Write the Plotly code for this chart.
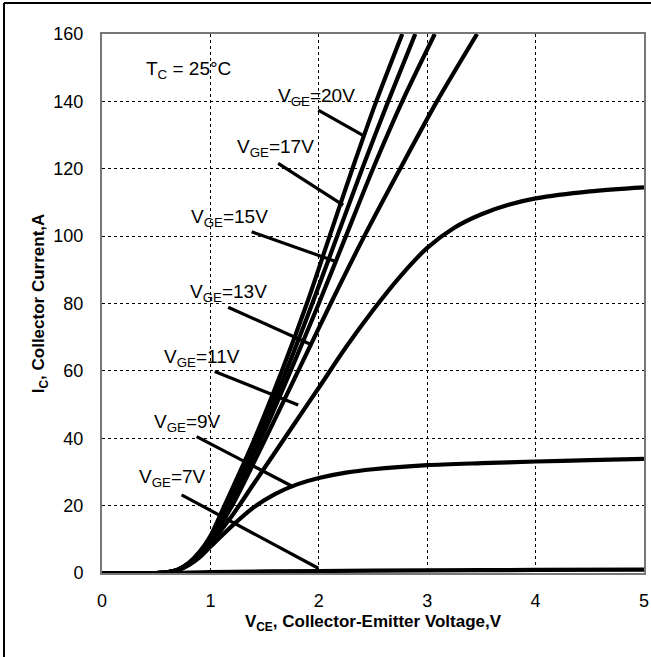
import plotly.graph_objects as go

# ---- data ----
vge_labels = ["20V", "17V", "15V", "13V", "11V", "9V", "7V"]

x_20 = [0, 0.5, 0.6, 0.7, 0.8, 0.9, 1.0, 1.13, 1.41, 1.66, 1.89, 2.10, 2.31, 2.53, 2.77]
y_20 = [0, 0, 0.2, 1.0, 3.0, 6.3, 11.0, 20, 40, 60, 80, 100, 120, 140, 160]

x_17 = [0, 0.5, 0.6, 0.7, 0.8, 0.9, 1.0, 1.15, 1.44, 1.70, 1.94, 2.17, 2.40, 2.64, 2.89]
y_17 = [0, 0, 0.2, 1.0, 2.9, 6.1, 10.5, 20, 40, 60, 80, 100, 120, 140, 160]

x_15 = [0, 0.5, 0.6, 0.7, 0.8, 0.9, 1.0, 1.17, 1.47, 1.74, 2.00, 2.25, 2.50, 2.77, 3.07]
y_15 = [0, 0, 0.2, 1.0, 2.8, 5.9, 10.2, 20, 40, 60, 80, 100, 120, 140, 160]

x_13 = [0, 0.5, 0.6, 0.7, 0.8, 0.9, 1.0, 1.20, 1.51, 1.81, 2.11, 2.42, 2.75, 3.09, 3.46]
y_13 = [0, 0, 0.2, 0.95, 2.7, 5.6, 9.6, 20, 40, 60, 80, 100, 120, 140, 160]

x_11 = [0, 0.5, 0.6, 0.7, 0.8, 0.9, 1.0, 1.2, 1.4, 1.6, 1.8, 2.0, 2.25, 2.5, 2.75, 3.0, 3.25, 3.5, 3.75, 4.0, 4.5, 5.0]
y_11 = [0, 0, 0.2, 0.9, 2.6, 5.3, 8.8, 17, 26.5, 36, 45.5, 55, 67, 78, 88, 96.5, 102.5, 106.5, 109.3, 111.2, 113.3, 114.5]

x_9 = [0, 0.5, 0.6, 0.7, 0.8, 0.9, 1.0, 1.2, 1.4, 1.6, 1.8, 2.0, 2.25, 2.5, 3.0, 3.5, 4.0, 4.5, 5.0]
y_9 = [0, 0, 0.2, 0.8, 2.3, 4.6, 7.8, 14, 19.5, 23.5, 26.3, 28.2, 29.8, 30.8, 32.0, 32.6, 33.1, 33.5, 33.9]

x_7 = [0, 0.6, 1.0, 2.0, 3.0, 4.0, 5.0]
y_7 = [0, 0, 0.3, 0.6, 0.8, 0.9, 1.0]

x_ticks = [0, 1, 2, 3, 4, 5]
y_ticks = [0, 20, 40, 60, 80, 100, 120, 140, 160]

series = [(x_20, y_20), (x_17, y_17), (x_15, y_15), (x_13, y_13),
          (x_11, y_11), (x_9, y_9), (x_7, y_7)]

# ---- label / pointer placement (layout) ----
label_pos = [(1.98, 141.4), (1.60, 126.2), (1.18, 105.4), (1.165, 83.1),
             (0.92, 63.8), (0.79, 44.5), (0.65, 28.2)]
pointer_start = [(1.995, 137.4), (1.625, 121.6), (1.38, 101.3), (1.164, 78.9),
                 (1.04, 59.8), (0.873, 40.5), (0.734, 23.2)]
pointer_end = [(2.42, 129.7), (2.225, 109.2), (2.163, 92.4), (1.917, 68.0),
               (1.81, 49.9), (1.763, 25.6), (1.995, 1.4)]

FONT = "Liberation Sans, Arial, sans-serif"

fig = go.Figure()
for (xs, ys), lab in zip(series, vge_labels):
    fig.add_trace(go.Scatter(x=xs, y=ys, mode="lines", name=lab,
                             line=dict(color="black", width=4.2, shape="spline", smoothing=0.8),
                             showlegend=False, hoverinfo="skip"))

shapes = []
for (x0, y0), (x1, y1) in zip(pointer_start, pointer_end):
    shapes.append(dict(type="line", xref="x", yref="y", x0=x0, y0=y0, x1=x1, y1=y1,
                       line=dict(color="black", width=3.2)))

# outer frame (left and top edges of the picture)
W, H = 651, 657
L, R, T, B = 102, 7, 34, 84
pw, ph = W - L - R, H - T - B
def px2paper_x(px):
    return (px - L) / pw
def py2paper_y(py):
    return (H - B - py) / ph
shapes.append(dict(type="line", xref="paper", yref="paper",
                   x0=px2paper_x(4), x1=px2paper_x(4), y0=py2paper_y(3), y1=py2paper_y(700),
                   line=dict(color="black", width=2)))
shapes.append(dict(type="line", xref="paper", yref="paper",
                   x0=px2paper_x(4), x1=px2paper_x(700), y0=py2paper_y(3), y1=py2paper_y(3),
                   line=dict(color="black", width=2)))

annotations = []
for (x, y), lab in zip(label_pos, vge_labels):
    annotations.append(dict(x=x, y=y, xref="x", yref="y", showarrow=False,
                            text="V<sub>GE</sub>=" + lab,
                            font=dict(family=FONT, size=19, color="black")))
annotations.append(dict(x=0.80, y=149.3, xref="x", yref="y", showarrow=False,
                        text="T<sub>C</sub> = 25°C",
                        font=dict(family=FONT, size=19, color="black")))

fig.update_layout(
    width=W, height=H,
    margin=dict(l=L, r=R, t=T, b=B),
    paper_bgcolor="white", plot_bgcolor="white",
    shapes=shapes, annotations=annotations,
    font=dict(family=FONT, size=18, color="black"),
)
fig.update_xaxes(range=[0, 5], tickvals=x_ticks, ticks="outside", ticklen=10,
                 tickcolor="rgba(0,0,0,0)", automargin=False,
                 showgrid=True, gridcolor="black", gridwidth=1, griddash="dot",
                 showline=True, linecolor="#777", linewidth=2, mirror=True,
                 zeroline=False,
                 title=dict(text="<b>V<sub>CE</sub>, Collector-Emitter Voltage,V</b>",
                            font=dict(family=FONT, size=17), standoff=6))
fig.update_yaxes(range=[0, 160], tickvals=y_ticks, ticks="outside", ticklen=13,
                 tickcolor="rgba(0,0,0,0)", automargin=False,
                 showgrid=True, gridcolor="black", gridwidth=1, griddash="dot",
                 showline=True, linecolor="#777", linewidth=2, mirror=True,
                 zeroline=False,
                 title=dict(text="<b>I<sub>C</sub>, Collector Current,A</b>",
                            font=dict(family=FONT, size=17), standoff=4))

fig.write_html("out.html")
